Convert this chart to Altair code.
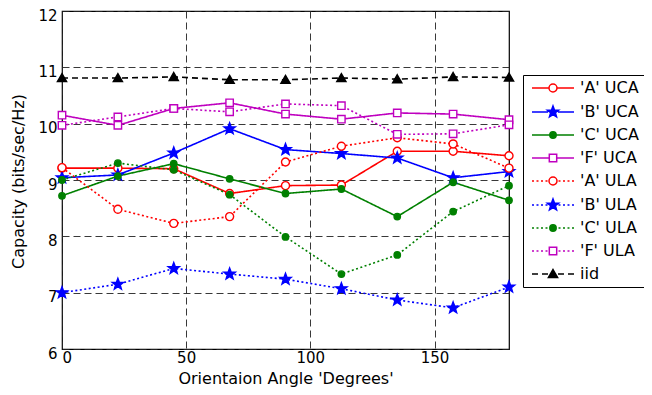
import math
import altair as alt
import pandas as pd

# ---------------- data ----------------
angles = [0, 22.5, 45, 67.5, 90, 112.5, 135, 157.5, 180]
series_names = ["'A' UCA", "'B' UCA", "'C' UCA", "'F' UCA",
                "'A' ULA", "'B' ULA", "'C' ULA", "'F' ULA", "iid"]
A_UCA = [9.21, 9.21, 9.20, 8.76, 8.90, 8.91, 9.51, 9.51, 9.43]
B_UCA = [9.04, 9.09, 9.48, 9.91, 9.54, 9.47, 9.39, 9.04, 9.15]
C_UCA = [8.72, 9.07, 9.29, 9.02, 8.76, 8.84, 8.35, 8.96, 8.64]
F_UCA = [10.15, 9.97, 10.27, 10.37, 10.17, 10.08, 10.19, 10.17, 10.07]
A_ULA = [9.22, 8.48, 8.23, 8.35, 9.32, 9.60, 9.75, 9.64, 9.21]
B_ULA = [7.00, 7.15, 7.43, 7.33, 7.24, 7.07, 6.87, 6.73, 7.10]
C_ULA = [9.00, 9.30, 9.18, 8.74, 7.99, 7.33, 7.67, 8.44, 8.90]
F_ULA = [9.97, 10.12, 10.27, 10.21, 10.35, 10.32, 9.81, 9.82, 9.98]
IID = [10.81, 10.81, 10.83, 10.78, 10.78, 10.81, 10.79, 10.83, 10.82]
all_values = [A_UCA, B_UCA, C_UCA, F_UCA, A_ULA, B_ULA, C_ULA, F_ULA, IID]

x_ticks = [0, 50, 100, 150]
y_ticks = [6, 7, 8, 9, 10, 11, 12]

# ---------------- styles ----------------
RED, BLUE, GREEN, MAG, BLK = "#FF0000", "#0000FF", "#008000", "#BF00BF", "#000000"
colors = [RED, BLUE, GREEN, MAG, RED, BLUE, GREEN, MAG, BLK]
fills = ["white", BLUE, GREEN, "white", "white", BLUE, GREEN, "white", BLK]
kinds = ["circle", "star", "dot", "square", "circle", "star", "dot", "square", "tri"]
styles = ["solid"] * 4 + ["dot"] * 4 + ["dash"]
dash_map = {"solid": [1, 0], "dot": [2, 2.5], "dash": [6, 4]}
seg_map = {"solid": (1000, 0), "dot": (2, 2.5), "dash": (6, 4)}
half_w = {"circle": 4, "star": 5, "dot": 3.2, "square": 3.7, "tri": 4.6}

rows = []
for name, vals in zip(series_names, all_values):
    for a, v in zip(angles, vals):
        rows.append({"angle": a, "value": v, "series": name})
df = pd.DataFrame(rows)


def f(v):
    return f"{v:.3f}"


def marker_path(kind, u):
    if kind in ("circle", "dot"):
        r = (4.0 if kind == "circle" else 3.2) / u
        return (f"M{f(r)},0A{f(r)},{f(r)},0,1,1,{f(-r)},0"
                f"A{f(r)},{f(r)},0,1,1,{f(r)},0Z")
    if kind == "square":
        h = 3.7 / u
        return f"M{f(-h)},{f(-h)}H{f(h)}V{f(h)}H{f(-h)}Z"
    if kind == "tri":
        w, ht = 4.6 / u, 8.0 / u
        return f"M0,{f(-0.55*ht)}L{f(w)},{f(0.45*ht)}L{f(-w)},{f(0.45*ht)}Z"
    ro, ri = 6.0 / u, 2.5 / u
    pts = []
    for i in range(10):
        ang = -math.pi / 2 + i * math.pi / 5
        rr = ro if i % 2 == 0 else ri
        pts.append((rr * math.cos(ang), rr * math.sin(ang)))
    return "M" + "L".join(f"{f(x)},{f(y)}" for x, y in pts) + "Z"


def legend_path(kind, style, u, half_len=21.0):
    dash, gap = seg_map[style]
    L, m = half_len / u, half_w[kind] / u
    d, g = dash / u, gap / u
    parts = []
    pos = L
    while pos > m:
        end = max(pos - d, m)
        parts.append(f"M{f(end)},0H{f(pos)}")
        parts.append(f"M{f(-pos)},0H{f(-end)}")
        pos -= d + g
    return "".join(parts) + marker_path(kind, u)


PLOT_SIZE = 144
LEG_SIZE = 169
plot_shapes = [marker_path(k, math.sqrt(PLOT_SIZE) / 2) for k in kinds]
legend_shapes = [legend_path(k, s, math.sqrt(LEG_SIZE) / 2) for k, s in zip(kinds, styles)]

x_enc = alt.X("angle:Q", scale=alt.Scale(domain=[0, 180], nice=False, zero=False),
              axis=alt.Axis(values=x_ticks, title="Orientaion Angle 'Degrees'",
                            labelBaseline="alphabetic", labelPadding=13,
                            titleFontSize=16, titleBaseline="alphabetic", titleY=34))
y_enc = alt.Y("value:Q", scale=alt.Scale(domain=[6, 12], nice=False, zero=False),
              axis=alt.Axis(values=y_ticks, title="Capacity (bits/sec/Hz)",
                            labelPadding=5, labelOffset=4,
                            titleFontSize=16, titleX=-44, titleY=170,
                            titleBaseline="middle", titleAlign="center"))

color_scale = alt.Scale(domain=series_names, range=colors)

lines = alt.Chart(df).mark_line(strokeWidth=1.6).encode(
    x=x_enc, y=y_enc,
    color=alt.Color("series:N", scale=color_scale, legend=None),
    strokeDash=alt.StrokeDash("series:N",
                              scale=alt.Scale(domain=series_names,
                                              range=[dash_map[s] for s in styles]),
                              legend=None),
)

points = alt.Chart(df).mark_point(filled=False, opacity=1, size=PLOT_SIZE,
                                  strokeWidth=1.4).encode(
    x=x_enc, y=y_enc,
    color=alt.Color("series:N", scale=color_scale, legend=None),
    fill=alt.Fill("series:N", scale=alt.Scale(domain=series_names, range=fills), legend=None),
    shape=alt.Shape("series:N", scale=alt.Scale(domain=series_names, range=plot_shapes),
                    legend=None),
)

leg = alt.Legend(title=None, orient="none", legendX=461, legendY=64)
legend_layer = alt.Chart(df).transform_filter("datum.angle < 0").mark_point(
    filled=True, opacity=1, size=LEG_SIZE, strokeWidth=1.5).encode(
    x=x_enc, y=y_enc,
    fill=alt.Fill("series:N", scale=alt.Scale(domain=series_names, range=fills), legend=leg),
    stroke=alt.Stroke("series:N", scale=alt.Scale(domain=series_names, range=colors), legend=leg),
    shape=alt.Shape("series:N", scale=alt.Scale(domain=series_names, range=legend_shapes),
                    legend=leg),
)

chart = alt.layer(lines, points, legend_layer).resolve_scale(
    shape="independent", fill="independent", stroke="independent"
).properties(
    width=447, height=338,
    autosize=alt.AutoSizeParams(type="none"),
    padding={"left": 54, "top": 3, "right": 135, "bottom": 38},
    background="white",
).configure_view(
    stroke="black", strokeWidth=1.2
).configure_axis(
    labelFont="DejaVu Sans", labelFontSize=15, labelColor="black",
    titleFont="DejaVu Sans", titleFontWeight="normal", titleColor="black",
    grid=True, gridColor="#222222", gridDash=[7, 4], gridWidth=0.9,
    domain=False, ticks=False, tickSize=0,
).configure_legend(
    padding=5, strokeColor="black", fillColor="white",
    labelFont="DejaVu Sans", labelFontSize=16, labelColor="black",
    symbolSize=LEG_SIZE, symbolStrokeWidth=1.5, symbolOffset=17, labelOffset=19,
    rowPadding=7, symbolOpacity=1,
)

chart.save("out.html", embed_options={"renderer": "svg", "actions": False})
